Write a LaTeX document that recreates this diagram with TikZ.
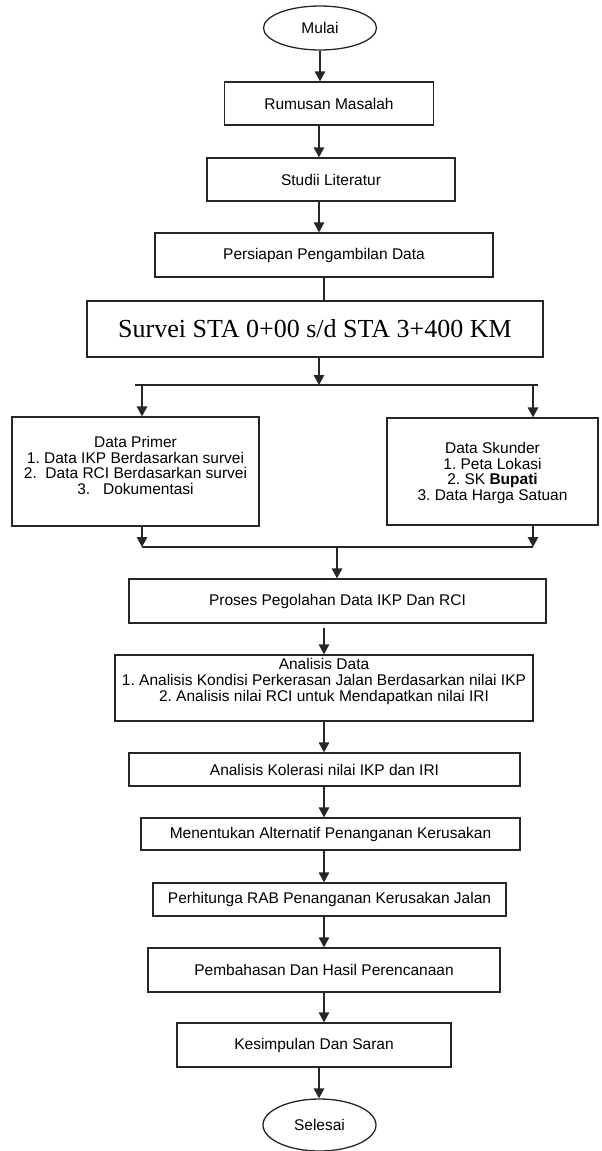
\documentclass[tikz,border=0pt]{standalone}
\usepackage{fontspec}
\setmainfont{Liberation Sans}
\newfontfamily\serifbig{Liberation Serif}
\definecolor{garis}{HTML}{262626}
\usetikzlibrary{arrows.meta, shapes.geometric, calc}
\frenchspacing

\begin{document}
\begin{tikzpicture}[
    x=1pt, y=-1pt,
    box/.style={rectangle, draw=garis, line width=1.3pt, inner sep=1pt,
                text centered, align=center,
                font=\fontsize{15.5}{15.7}\selectfont},
    term/.style={ellipse, draw=garis, line width=1.3pt, inner sep=0pt,
                 minimum width=113pt, minimum height=44pt,
                 font=\fontsize{15.5}{15.7}\selectfont},
    arr/.style={-{Triangle[length=10pt, width=10.5pt]}, line width=1.3pt, garis},
    garisan/.style={line width=1.3pt, garis}
  ]
  \useasboundingbox (0,0) rectangle (602,1151);

  % lajur tengah untuk panah
  \coordinate (spine) at (324,0);

  \node[term] (mulai) at (320,28) {Mulai};
  \node[box, minimum width=209pt, minimum height=43pt] (rumusan) at (329,103.5) {Rumusan Masalah};
  \node[box, minimum width=248pt, minimum height=43pt] (studi) at (331,179.5) {Studii Literatur};
  \node[box, minimum width=338pt, minimum height=44pt] (persiapan) at (324,255) {Persiapan Pengambilan Data};
  \node[box, minimum width=456pt, minimum height=56pt, font=\serifbig\fontsize{26}{28}\selectfont]
    (survei) at (315,329) {Survei STA 0+00 s/d STA 3+400 KM};

  \node[box, minimum width=247pt, minimum height=109pt, text depth=12pt] (primer) at (135.5,471.5)
    {Data Primer\\ 1. Data IKP Berdasarkan survei\\ 2.\ \ Data RCI Berdasarkan survei\\ 3.\ \ \ Dokumentasi};
  \node[box, minimum width=211pt, minimum height=107pt, text depth=0pt] (skunder) at (492.5,471.5)
    {Data Skunder\\ 1. Peta Lokasi\\ 2. SK \textbf{Bupati}\\ 3. Data Harga Satuan};

  \node[box, minimum width=417pt, minimum height=44pt] (proses) at (337.5,601) {Proses Pegolahan Data IKP Dan RCI};
  \node[box, minimum width=418pt, minimum height=66pt, text depth=16pt] (analisis) at (324,688)
    {Analisis Data\\ 1. Analisis Kondisi Perkerasan Jalan Berdasarkan nilai IKP\\ 2. Analisis nilai RCI untuk Mendapatkan nilai IRI};
  \node[box, minimum width=391pt, minimum height=33pt] (kolerasi) at (324.5,769.5) {Analisis Kolerasi nilai IKP dan IRI};
  \node[box, minimum width=379pt, minimum height=32pt] (alternatif) at (330.5,834) {Menentukan Alternatif Penanganan Kerusakan};
  \node[box, minimum width=353pt, minimum height=33pt] (rab) at (329.5,899.5) {Perhitunga RAB Penanganan Kerusakan Jalan};
  \node[box, minimum width=352pt, minimum height=44pt] (bahas) at (324,970) {Pembahasan Dan Hasil Perencanaan};
  \node[box, minimum width=274pt, minimum height=44pt] (simpul) at (314,1045) {Kesimpulan Dan Saran};
  \node[term, minimum height=52pt] (selesai) at (319.5,1125) {Selesai};

  % titik cabang dan gabung
  \coordinate (cabang)  at (319,385);
  \coordinate (cabangL) at (135,385);
  \coordinate (cabangR) at (538,385);
  \coordinate (masukL)  at (142,385);
  \coordinate (masukR)  at (533,385);
  \coordinate (gabungL) at (142,547);
  \coordinate (gabungR) at (533,547);
  \coordinate (gabung)  at (337,547);

  \draw[arr] (mulai.south) -- (mulai.south |- rumusan.north);
  \draw[arr] (rumusan.south -| cabang) -- (studi.north -| cabang);
  \draw[arr] (studi.south -| cabang) -- (persiapan.north -| cabang);
  \draw[garisan] (persiapan.south -| spine) -- (survei.north -| spine);
  \draw[arr] (survei.south -| cabang) -- (cabang);
  \draw[garisan] (cabangL) -- (cabangR);
  \draw[arr] (masukL) -- (masukL |- primer.north);
  \draw[arr] (masukR) -- (masukR |- skunder.north);
  \draw[arr] (primer.south -| gabungL) -- (gabungL);
  \draw[arr] (skunder.south -| gabungR) -- (gabungR);
  \draw[garisan] (gabungL) -- (gabungR);
  \draw[arr] (gabung) -- (gabung |- proses.north);
  \draw[arr, shorten <=4pt] (proses.south -| spine) -- (analisis.north -| spine);
  \draw[arr] (analisis.south -| spine) -- (kolerasi.north -| spine);
  \draw[arr] (kolerasi.south -| spine) -- (alternatif.north -| spine);
  \draw[arr] (alternatif.south -| spine) -- (rab.north -| spine);
  \draw[arr] (rab.south -| spine) -- (bahas.north -| spine);
  \draw[arr] (bahas.south -| spine) -- (simpul.north -| spine);
  \draw[arr] (simpul.south -| cabang) -- (selesai.north -| cabang);
\end{tikzpicture}
\end{document}
